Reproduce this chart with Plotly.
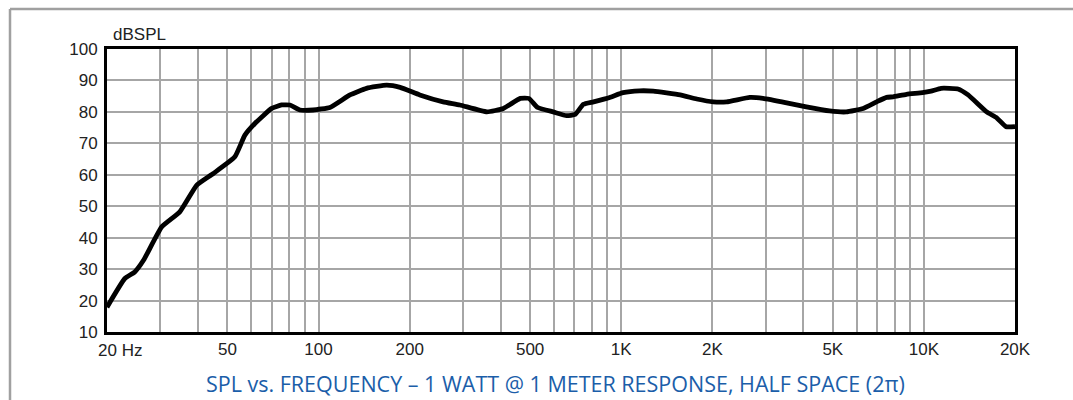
import plotly.graph_objects as go
import math

freq_hz = [20, 22.9, 24.7, 26.4, 30.3, 34.8, 39.6, 44.9, 52.9, 57.1, 61.6, 70, 75.5, 80.4,
           86.8, 96, 109, 127, 144, 168, 186, 216, 258, 293, 360, 408, 464, 495, 530,
           596, 660, 704, 750, 810, 916, 1014, 1150, 1276, 1566, 1776, 2014, 2230, 2660,
           2940, 3520, 4090, 4880, 5540, 6300, 6980, 7530, 7910, 8760, 9900, 10560,
           11400, 12960, 14000, 16120, 17400, 18680, 20000]
spl_db = [17.9, 27.0, 29.1, 32.8, 43.4, 48.2, 56.7, 60.4, 65.7, 72.6, 76.3, 81.1, 82.2, 82.2,
          80.6, 80.6, 81.4, 85.4, 87.5, 88.5, 87.8, 85.4, 83.2, 82.2, 80.0, 81.1, 84.3, 84.3, 81.4,
          80.0, 78.8, 79.2, 82.4, 83.2, 84.6, 86.1, 86.7, 86.6, 85.4, 84.1, 83.2, 83.2, 84.6,
          84.3, 82.9, 81.6, 80.3, 80.0, 81.1, 83.2, 84.6, 84.8, 85.6, 86.1, 86.6,
          87.5, 87.3, 85.4, 80.0, 78.1, 75.3, 75.3]

grid_freqs = [30, 40, 50, 60, 70, 80, 90, 100, 200, 300, 400, 500, 600, 700, 800, 900,
              1000, 2000, 3000, 4000, 5000, 6000, 7000, 8000, 9000, 10000, 20000]
labeled = {50: "50", 100: "100", 200: "200", 500: "500", 1000: "1K", 2000: "2K",
           5000: "5K", 10000: "10K", 20000: "20K"}
x_ticktext = [labeled.get(f, "") for f in grid_freqs]
y_ticks = [10, 20, 30, 40, 50, 60, 70, 80, 90, 100]

W, H = 1073, 400
L, R, T, B = 107, 58, 49, 68
pw, ph = W - L - R, H - T - B

def px_x(p):
    return (p - L) / pw

def px_y(p):
    return (H - B - p) / ph

fig = go.Figure()
fig.add_trace(go.Scatter(x=freq_hz, y=spl_db, mode="lines",
                         line=dict(color="black", width=4.8, shape="spline", smoothing=0.4),
                         hoverinfo="skip", showlegend=False))

tickfont = dict(family="Liberation Sans, Arial, sans-serif", size=17, color="#222")
fig.update_layout(
    width=W, height=H,
    margin=dict(l=L, r=R, t=T, b=B, pad=0),
    paper_bgcolor="white", plot_bgcolor="white",
    xaxis=dict(type="log", range=[math.log10(20), math.log10(20000)],
               tickvals=grid_freqs, ticktext=x_ticktext, tickfont=tickfont,
               showgrid=True, gridcolor="#a6a6a6", gridwidth=1.5,
               showline=True, linecolor="black", linewidth=3, mirror=True,
               ticks="", zeroline=False, fixedrange=True),
    yaxis=dict(range=[10, 100], tickvals=y_ticks, tickfont=tickfont,
               ticklabelstandoff=3,
               showgrid=True, gridcolor="#a6a6a6", gridwidth=1.5,
               showline=True, linecolor="black", linewidth=3, mirror=True,
               ticks="", zeroline=False, fixedrange=True),
    shapes=[
        dict(type="line", xref="paper", yref="paper", x0=px_x(10), x1=px_x(1080),
             y0=px_y(9), y1=px_y(9), line=dict(color="#a0a0a0", width=2.5)),
        dict(type="line", xref="paper", yref="paper", x0=px_x(10), x1=px_x(10),
             y0=px_y(9), y1=px_y(410), line=dict(color="#a0a0a0", width=2.5)),
    ],
    annotations=[
        dict(text="dBSPL", xref="paper", yref="paper", x=px_x(111), y=px_y(34),
             xanchor="left", yanchor="middle", showarrow=False, font=tickfont),
        dict(text="20 Hz", xref="x", yref="paper", x=math.log10(20), y=px_y(350),
             xanchor="left", yanchor="middle", xshift=-11, showarrow=False, font=tickfont),
        dict(text="SPL vs. FREQUENCY \u2013 1 WATT @ 1 METER RESPONSE, HALF SPACE (2\u03c0)",
             xref="paper", yref="paper", x=px_x(555), y=px_y(383),
             xanchor="center", yanchor="middle", showarrow=False,
             font=dict(family="Open Sans, Noto Sans, sans-serif", size=21.5, color="#1b5ea9")),
    ],
)
fig.write_html("out.html")
